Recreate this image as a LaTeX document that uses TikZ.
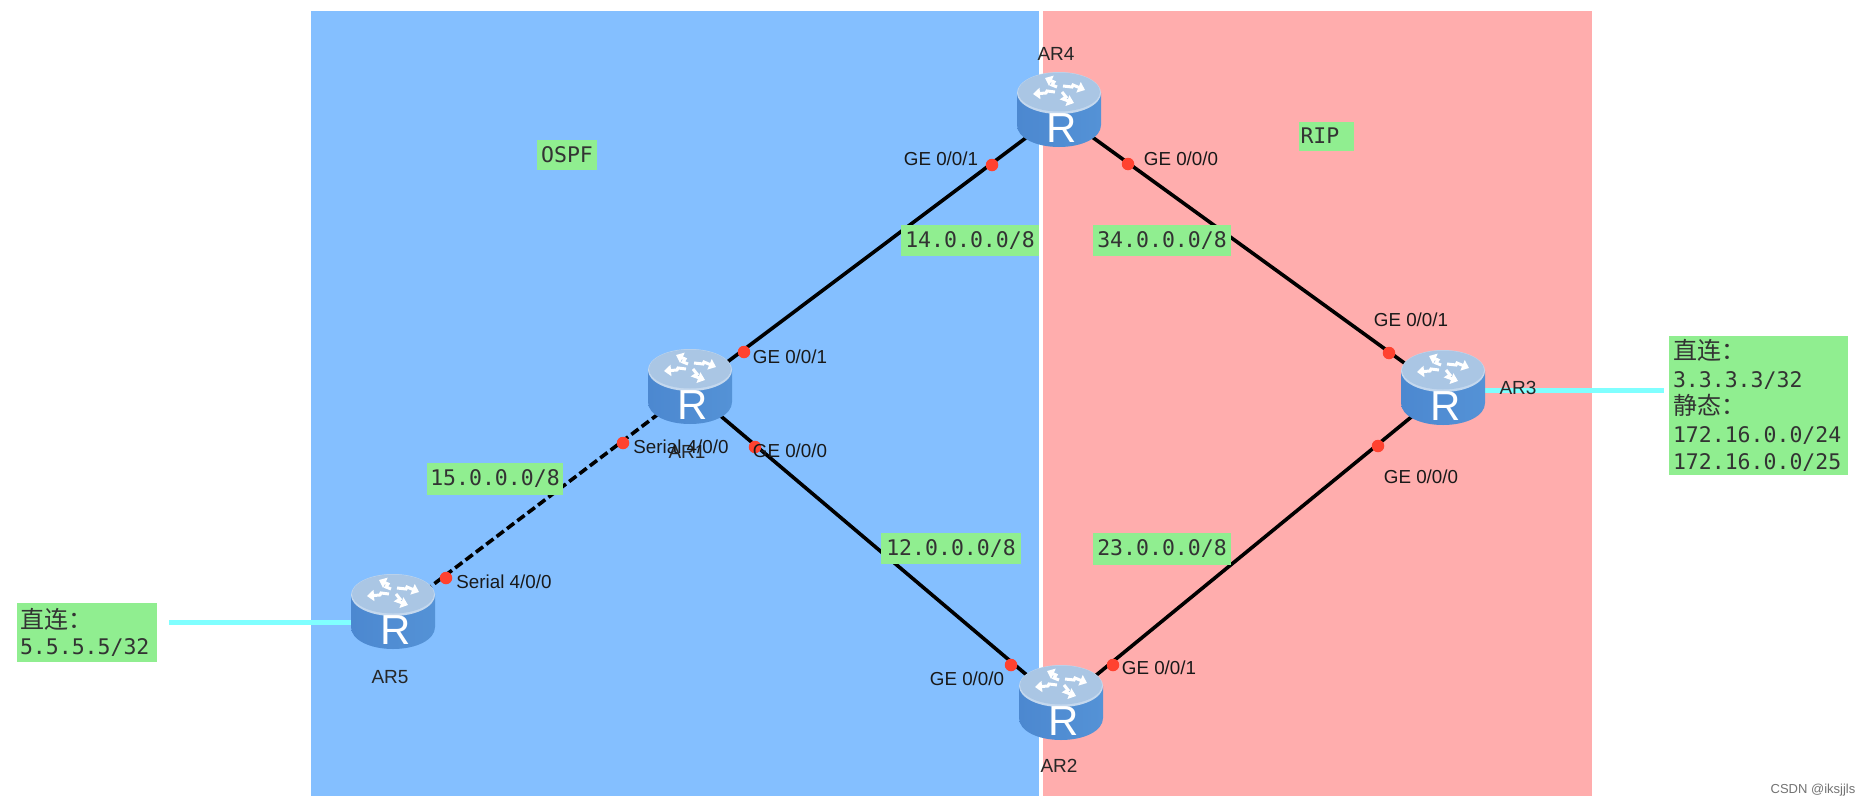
\documentclass[tikz,border=0pt]{standalone}
\usepackage{fontspec}
\setmainfont{Liberation Sans}
\newfontfamily\monof{DejaVu Sans Mono}
\newfontfamily\cjkf{Noto Sans CJK SC}
\usetikzlibrary{arrows.meta}
\definecolor{ospfblue}{HTML}{84BFFF}
\definecolor{ripred}{HTML}{FFADAD}
\definecolor{netgreen}{HTML}{90EE90}
\definecolor{portred}{HTML}{FF4230}
\definecolor{stubcyan}{HTML}{80FFFF}
\definecolor{rtdark}{HTML}{4C88D0}
\definecolor{rtmid}{HTML}{7AAEEA}
\definecolor{rtright}{HTML}{5492D6}
\definecolor{rttop}{HTML}{AAC6E4}
\definecolor{rtrim}{HTML}{C4D8EE}
\tikzset{
  x=1pt,y=-1pt,
  region/.style={fill=#1,draw=none},
  netlabel/.style={fill=netgreen,inner sep=0pt,align=center,font=\monof\fontsize{21.5}{26}\selectfont,text=black!80},
  ifname/.style={font=\fontsize{18.8}{22}\selectfont,text=black!90,inner sep=0pt},
  devname/.style={font=\fontsize{19}{23}\selectfont,text=black!85,inner sep=0pt},
  routerbody/.style={minimum width=84pt,minimum height=74pt,inner sep=0pt,draw=none},
  portdot/.style={circle,fill=portred,minimum size=12.5pt,inner sep=0pt,draw=none},
  link/.style={draw=black,line width=3.6pt},
  seriallink/.style={link,dash pattern=on 9pt off 4pt},
  stub/.style={draw=stubcyan,line width=5pt},
  rarrow/.style={white,line width=3pt,-{Triangle[width=11pt,length=7pt]}},
  routerpic/.pic={
    \shade[draw=none,left color=rtdark,middle color=rtmid,right color=rtright]
      (-42,-17) -- (-42,15) .. controls (-42,28) and (-23,37) .. (0,37)
      .. controls (23,37) and (42,28) .. (42,15) -- (42,-17)
      .. controls (42,-7) and (23,3) .. (0,3) .. controls (-23,3) and (-42,-7) .. (-42,-17) -- cycle;
    \fill[rtrim] (0,-17) ellipse [x radius=42pt,y radius=21pt];
    \fill[rttop] (0,-18) ellipse [x radius=41pt,y radius=19.5pt];
    \begin{scope}[shift={(1,-20)}]
      \draw[rarrow] (-3,-3) -- (-8,-5) -- (-6,-8) -- (-15,-12);
      \draw[rarrow] (3,-4) -- (12,-3) -- (13,-5) -- (25,0);
      \draw[rarrow] (-5,2) -- (-13,1) -- (-14,3) -- (-27,4);
      \draw[rarrow] (2,2) -- (6,7) -- (3,9) -- (14,13);
    \end{scope}
    \node[text=white,inner sep=0pt,font=\fontsize{42}{42}\selectfont] (-r) at (3,18) {R};
  }
}
\begin{document}
\begin{tikzpicture}
\useasboundingbox (0,0) rectangle (1861,806);
\fill[white] (0,0) rectangle (1861,806);
\path[region=ospfblue] (311,11) rectangle (1039,796);
\path[region=ripred] (1043,11) rectangle (1592,796);

% routers (placeholders for connector ends)
\node[routerbody] (ar4) at (1059,110) {};
\node[routerbody] (ar1) at (690,387) {};
\node[routerbody] (ar5) at (393,612) {};
\node[routerbody] (ar2) at (1061,703) {};
\node[routerbody] (ar3) at (1443,388) {};

\coordinate (e4) at ([yshift=-3pt]ar4.center);
\coordinate (e1) at ([yshift=-3pt]ar1.center);
\coordinate (e5) at ([yshift=-3pt]ar5.center);
\coordinate (e2) at ([yshift=-1pt]ar2.center);
\coordinate (e3) at ([yshift=-3pt]ar3.center);

% text boxes
\node[netlabel,minimum width=140pt,minimum height=59pt,text width=134pt,align=left] (stub5) at (87,632.5)
  {{\cjkf\fontsize{24}{24}\selectfont 直连：}\\ 5.5.5.5/32};
\node[netlabel,minimum width=179pt,minimum height=139pt,text width=171pt,align=left,font=\monof\fontsize{21.5}{27.5}\selectfont] (stub3) at (1758.5,405.5)
  {{\cjkf\fontsize{24}{24}\selectfont 直连：}\\ 3.3.3.3/32\\ {\cjkf\fontsize{24}{24}\selectfont 静态：}\\ 172.16.0.0/24\\ 172.16.0.0/25};

\coordinate (stub5end) at (169,622);
\coordinate (stub3end) at (1664,390);
\draw[stub] (stub5end) -- (ar5.center |- stub5end);
\draw[stub] (ar3.center |- stub3end) -- (stub3end);

% links
\draw[link] (e1) -- (e4);
\draw[link] (e4) -- (e3);
\draw[link] (e1) -- (e2);
\draw[link] (e2) -- (e3);
\draw[seriallink] (e5) -- (e1);

% port dots
\node[portdot] (p41) at (992,165) {};
\node[portdot] (p40) at (1128,164) {};
\node[portdot] (p11) at (744,352) {};
\node[portdot] (p1s) at (623,443) {};
\node[portdot] (p10) at (755,447) {};
\node[portdot] (p5s) at (446,578) {};
\node[portdot] (p20) at (1011,665) {};
\node[portdot] (p21) at (1113,665) {};
\node[portdot] (p31) at (1389,353) {};
\node[portdot] (p30) at (1378,446) {};

% router icons
\pic (icon4) at (ar4) {routerpic};
\pic (icon1) at (ar1) {routerpic};
\pic (icon5) at (ar5) {routerpic};
\pic (icon2) at (ar2) {routerpic};
\pic (icon3) at (ar3) {routerpic};

% device names
\node[devname] (n4) at (1056,54) {AR4};
\node[devname] (n1) at (687,452) {AR1};
\node[devname] (n5) at (390,677) {AR5};
\node[devname] (n2) at (1059,766) {AR2};
\node[devname] (n3) at (1518,388) {AR3};

% interface names
\node[ifname] (i41) at (941,159) {GE 0/0/1};
\node[ifname] (i40) at (1181,159) {GE 0/0/0};
\node[ifname] (i11) at (790,357) {GE 0/0/1};
\node[ifname] (i1s) at (681,447) {Serial 4/0/0};
\node[ifname] (i10) at (790,451) {GE 0/0/0};
\node[ifname] (i5s) at (504,582) {Serial 4/0/0};
\node[ifname] (i20) at (967,679) {GE 0/0/0};
\node[ifname] (i21) at (1159,668) {GE 0/0/1};
\node[ifname] (i31) at (1411,320) {GE 0/0/1};
\node[ifname] (i30) at (1421,477) {GE 0/0/0};

% network labels
\node[netlabel,minimum width=60pt,minimum height=30pt] (ospf) at (567,155) {OSPF};
\node[netlabel,minimum width=55pt,minimum height=29pt,text width=51pt,align=left] (rip) at (1326,136) {RIP};
\node[netlabel,minimum width=138pt,minimum height=31pt] (n14) at (970,240.5) {14.0.0.0/8};
\node[netlabel,minimum width=138pt,minimum height=31pt] (n34) at (1162,240.5) {34.0.0.0/8};
\node[netlabel,minimum width=136pt,minimum height=32pt] (n15) at (495,479) {15.0.0.0/8};
\node[netlabel,minimum width=140pt,minimum height=31pt] (n12) at (951,548.5) {12.0.0.0/8};
\node[netlabel,minimum width=138pt,minimum height=32pt] (n23) at (1162,549) {23.0.0.0/8};

\node[font=\fontsize{13}{15}\selectfont,text=black!55,inner sep=0pt] (mark) at (1813,790) {CSDN @iksjjls};
\end{tikzpicture}
\end{document}
